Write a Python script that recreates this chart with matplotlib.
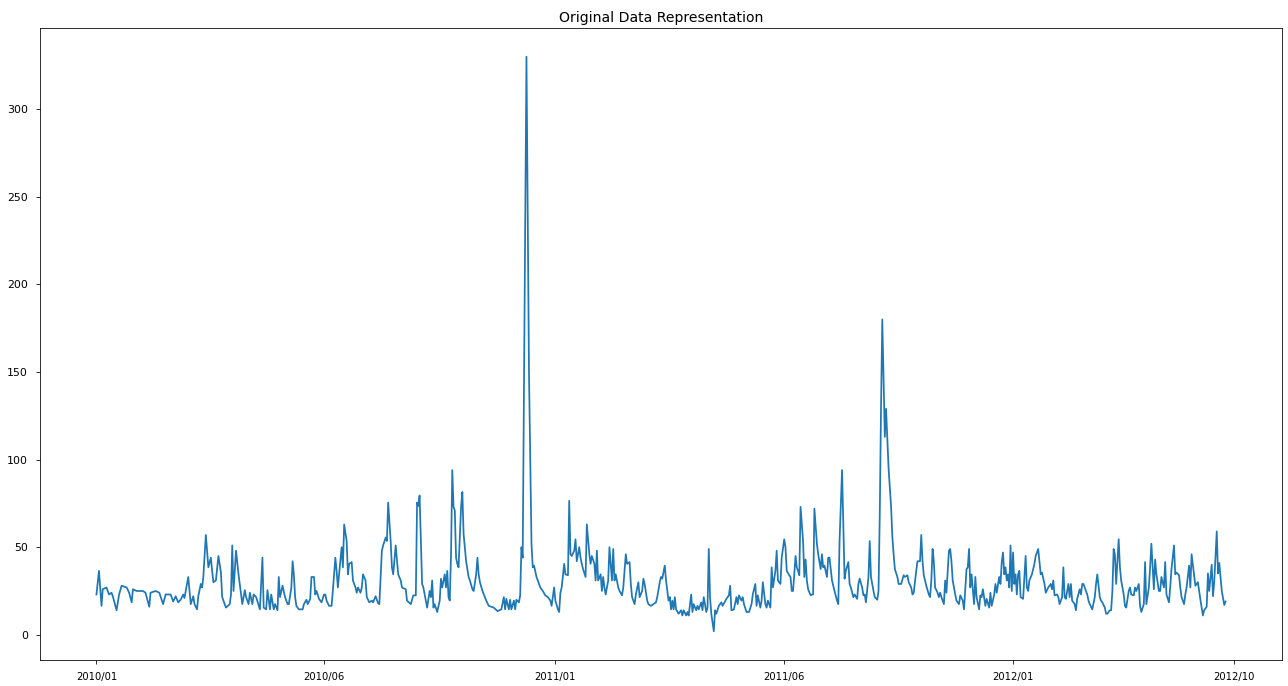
import matplotlib.pyplot as plt

# data (day index from 2010/01, value)
days = [0, 2, 4, 5, 8, 10, 12, 13, 16, 18, 20, 24, 26, 28, 29, 32, 37, 39, 42, 43,
        47, 50, 53, 55, 59, 61, 63, 65, 67, 69, 70, 72, 73, 75, 77, 78, 80, 81, 83, 84,
        85, 87, 89, 91, 92, 93, 95, 97, 99, 100, 103, 106, 107, 108, 109, 111, 113, 115, 116, 118,
        119, 121, 122, 124, 125, 127, 130, 132, 133, 135, 136, 138, 139, 141, 142, 144, 145, 146, 148, 150,
        152, 153, 155, 156, 157, 158, 159, 161, 164, 165, 167, 168, 170, 171, 173, 174, 175, 177, 179, 181,
        182, 183, 185, 187, 188, 190, 191, 192, 194, 195, 196, 197, 199, 200, 201, 203, 204, 206, 207, 208,
        210, 211, 212, 214, 215, 217, 219, 220, 222, 224, 225, 227, 228, 230, 231, 232, 234, 235, 236, 238,
        240, 242, 243, 246, 247, 250, 252, 254, 255, 256, 257, 258, 259, 260, 262, 263, 265, 266, 267, 268,
        269, 271, 273, 274, 275, 277, 278, 279, 280, 281, 282, 283, 284, 285, 286, 287, 288, 290, 291, 292,
        294, 296, 297, 299, 300, 302, 303, 304, 305, 307, 310, 312, 316, 319, 322, 324, 325, 326, 328, 329,
        330, 332, 333, 334, 336, 337, 338, 339, 340, 342, 344, 346, 347, 348, 350, 352, 353, 355, 357, 359,
        361, 362, 364, 365, 367, 368, 369, 370, 372, 373, 375, 376, 377, 378, 380, 381, 382, 384, 385, 386,
        387, 389, 390, 392, 393, 394, 396, 397, 398, 399, 401, 402, 403, 404, 405, 407, 408, 409, 410, 411,
        412, 413, 415, 416, 418, 419, 421, 422, 424, 425, 426, 428, 429, 431, 432, 434, 435, 436, 438, 439,
        441, 443, 445, 446, 448, 449, 450, 452, 453, 455, 456, 457, 458, 459, 460, 461, 463, 465, 466, 467,
        469, 470, 471, 473, 474, 475, 477, 478, 479, 481, 482, 483, 485, 486, 487, 488, 489, 491, 492, 493,
        495, 497, 498, 501, 503, 504, 505, 507, 509, 510, 511, 513, 514, 515, 517, 519, 521, 522, 524, 525,
        526, 528, 529, 530, 532, 533, 534, 536, 537, 538, 540, 541, 542, 544, 545, 547, 548, 549, 551, 552,
        553, 554, 555, 556, 557, 558, 559, 560, 562, 563, 564, 565, 566, 568, 569, 570, 571, 573, 574, 576,
        577, 578, 579, 581, 582, 583, 585, 587, 589, 590, 591, 593, 594, 595, 596, 598, 599, 600, 602, 603,
        605, 606, 607, 609, 610, 611, 612, 614, 615, 616, 618, 619, 621, 622, 623, 624, 625, 626, 627, 628,
        629, 630, 632, 633, 634, 635, 637, 638, 640, 642, 643, 645, 646, 648, 649, 650, 652, 653, 655, 656,
        657, 658, 659, 660, 662, 663, 664, 665, 666, 667, 669, 670, 671, 672, 674, 675, 676, 678, 679, 680,
        681, 683, 684, 686, 687, 689, 690, 692, 693, 694, 695, 696, 698, 699, 700, 702, 703, 704, 705, 707,
        708, 710, 711, 712, 714, 715, 716, 718, 719, 720, 721, 722, 723, 724, 725, 726, 727, 728, 729, 730,
        731, 732, 733, 734, 735, 737, 739, 740, 741, 742, 744, 746, 747, 749, 750, 751, 752, 754, 755, 757,
        759, 760, 761, 762, 764, 765, 766, 768, 769, 770, 771, 773, 774, 775, 776, 778, 779, 780, 782, 783,
        784, 785, 786, 788, 789, 790, 792, 794, 795, 796, 798, 799, 800, 802, 803, 804, 806, 807, 808, 809,
        810, 811, 813, 814, 815, 817, 818, 819, 821, 822, 823, 825, 826, 827, 829, 830, 831, 833, 834, 835,
        837, 838, 839, 841, 842, 843, 845, 846, 847, 849, 850, 851, 853, 854, 855, 857, 858, 859, 861, 862,
        863, 865, 866, 867, 869, 870, 871, 873, 874, 876, 878, 880, 881, 883, 884, 885, 887, 888, 889, 891,
        892, 893, 895, 897, 898]

values = [23, 36.5, 16.5, 26, 27, 23, 24, 22, 14, 23, 28, 27, 24, 18.5, 26, 25, 25, 24, 16, 24,
          25, 24, 17.5, 23, 23, 19, 22, 18.5, 20, 23, 21, 29, 33, 17.5, 22, 17.5, 14.5, 22, 29, 27,
          33, 57, 38.5, 44, 36.5, 30, 31, 45, 35.5, 21.5, 15.5, 17.5, 23, 51, 25, 48, 34.5, 23, 17.5, 25.5,
          21.5, 17.5, 24, 17.5, 23, 21.5, 14.5, 44, 15.5, 14.5, 25.5, 14.5, 23, 14.5, 17.5, 14, 33, 21.5, 28, 21.5,
          17.5, 17.5, 27, 42, 34.5, 21.5, 16.5, 14.5, 14.5, 17.5, 20, 17.5, 20.5, 33, 33, 23, 25, 20.5, 18.5, 23,
          23, 19.5, 16.5, 16.5, 25, 44, 36.5, 27, 42, 50, 38.5, 63, 53.5, 34.5, 40.5, 41.5, 31, 27, 24, 27,
          24, 27, 34.5, 31, 21.5, 18.5, 19.5, 18.5, 22, 18, 17.5, 48, 51, 55.5, 53.5, 75.5, 53.5, 38.5, 34.5, 51,
          34.5, 31, 27, 26, 19.5, 17.5, 22.5, 22.5, 75.5, 73.5, 79.5, 53.5, 29, 27, 19.5, 15.5, 25, 21.5, 31, 15.5,
          17.5, 13, 19.5, 32, 27, 34.5, 27, 36.5, 21.5, 19.5, 46, 94, 73, 71, 44, 40.5, 38.5, 73, 81.5, 57.5,
          42, 33, 31, 26, 25, 34.5, 44, 34.5, 30, 25, 19.5, 16.5, 15.5, 13.5, 14.5, 21.5, 14.5, 20.5, 14.5, 20,
          14.5, 19.5, 14.5, 20, 18.5, 22.5, 50, 44, 140, 330, 150, 52, 38.5, 39.5, 33, 29, 27, 25, 22.5, 21.5,
          19.5, 16.5, 27, 19.5, 14.5, 13, 24, 27, 40.5, 34.5, 34, 76.5, 46, 45, 48, 54.5, 42, 50, 44, 40.5,
          37.5, 33, 63, 46, 40.5, 45, 40.5, 31, 48, 31, 34.5, 25, 33, 27, 23, 31, 50, 40.5, 31, 49,
          31, 34.5, 27, 25, 22.5, 27, 46, 40.5, 41.5, 29, 21.5, 17.5, 23, 30, 21.5, 25, 32, 29, 19.5, 17.5,
          16.5, 17.5, 18.5, 21.5, 30, 33, 32, 39.5, 31, 19.5, 21.5, 14.5, 19.5, 14.5, 21.5, 14.5, 12, 14, 11, 14,
          11, 13, 11, 23, 13, 17.5, 14, 16.5, 14.5, 18.5, 14, 21.5, 13, 15.5, 49, 21.5, 12, 2, 14, 12,
          16.5, 18.5, 16.5, 20.5, 22.5, 28, 14, 14.5, 21.5, 17.5, 22.5, 19.5, 21.5, 17.5, 13, 13, 17.5, 23, 29, 16.5,
          22.5, 15.5, 19.5, 30, 17.5, 15.5, 19.5, 15.5, 38.5, 27, 36.5, 48, 31, 29, 44, 54.5, 50, 36.5, 34, 33,
          25, 25, 34.5, 45, 38.5, 36.5, 34, 73, 53.5, 33, 43, 31, 26, 22.5, 23, 23, 72, 52, 46, 37.5,
          46, 38.5, 39.5, 33, 44, 44, 31, 25, 19.5, 17.5, 53.5, 94, 63, 32, 36.5, 41.5, 29, 27, 21.5, 23,
          20.5, 29, 32, 27, 22.5, 23, 18.5, 33, 53.5, 33, 25, 21.5, 20, 25, 69, 130, 180, 145, 113, 129,
          112, 95, 73, 56, 46, 37.5, 33, 29, 29, 34, 33, 34, 30, 27, 23, 24, 36.5, 42, 42, 57,
          42, 34, 31, 28, 23, 21.5, 31, 49, 42, 27, 24, 21.5, 24, 21.5, 17.5, 31, 24, 48, 49, 42,
          31, 23, 19.5, 17.5, 22.5, 19.5, 14.5, 37.5, 38.5, 49, 27, 34.5, 17.5, 33, 21.5, 14.5, 22.5, 21.5, 26, 16.5,
          20.5, 15.5, 24, 16.5, 23, 29, 24, 33, 29, 41.5, 47, 34.5, 38.5, 31, 34.5, 27, 51, 25, 47, 29,
          34.5, 23, 34.5, 36.5, 21.5, 20.5, 45, 27, 25, 31, 34.5, 40.5, 45, 49, 42, 34.5, 35.5, 29, 24, 27,
          29, 26, 31, 22.5, 23, 21.5, 17.5, 21.5, 38.5, 21.5, 20.5, 29, 21.5, 29, 19.5, 17.5, 14, 20.5, 26, 23,
          29, 29, 27, 23, 19.5, 17.5, 14.5, 21.5, 29, 34.5, 21.5, 19.5, 18.5, 15.5, 12, 12, 14, 14, 25, 49,
          46, 29, 54.5, 38.5, 31, 23, 16.5, 15.5, 25, 27, 23, 22.5, 27, 25, 29, 16.5, 13, 17.5, 41.5, 17.5,
          27, 38.5, 52, 26, 43, 34.5, 25, 25, 33, 27, 41.5, 23, 18.5, 27, 37.5, 51, 34.5, 35.5, 34, 27,
          21.5, 17.5, 23, 27, 39.5, 27, 46, 34, 28, 30, 20, 11, 14, 16, 35, 25, 40, 22, 30, 59,
          35, 41, 25, 17, 19]

tick_pos = [0, 181, 365, 547, 729, 905]
tick_labels = ['2010/01', '2010/06', '2011/01', '2011/06', '2012/01', '2012/10']

fig = plt.figure(figsize=(1288 / 72, 686 / 72), dpi=72)
ax = fig.add_subplot(111)
fig.subplots_adjust(left=40 / 1288, right=1282 / 1288, top=1 - 28 / 686, bottom=1 - 660 / 686)

ax.plot(days, values, color='#1f77b4', linewidth=1.75)
ax.set_xticks(tick_pos, labels=tick_labels)
ax.tick_params(axis='x', labelsize=10, length=4, pad=8)
ax.tick_params(axis='y', labelsize=11, length=4, pad=8)
ax.set_title('Original Data Representation', fontsize=14, pad=6)

fig.savefig('out.png', dpi=72)
